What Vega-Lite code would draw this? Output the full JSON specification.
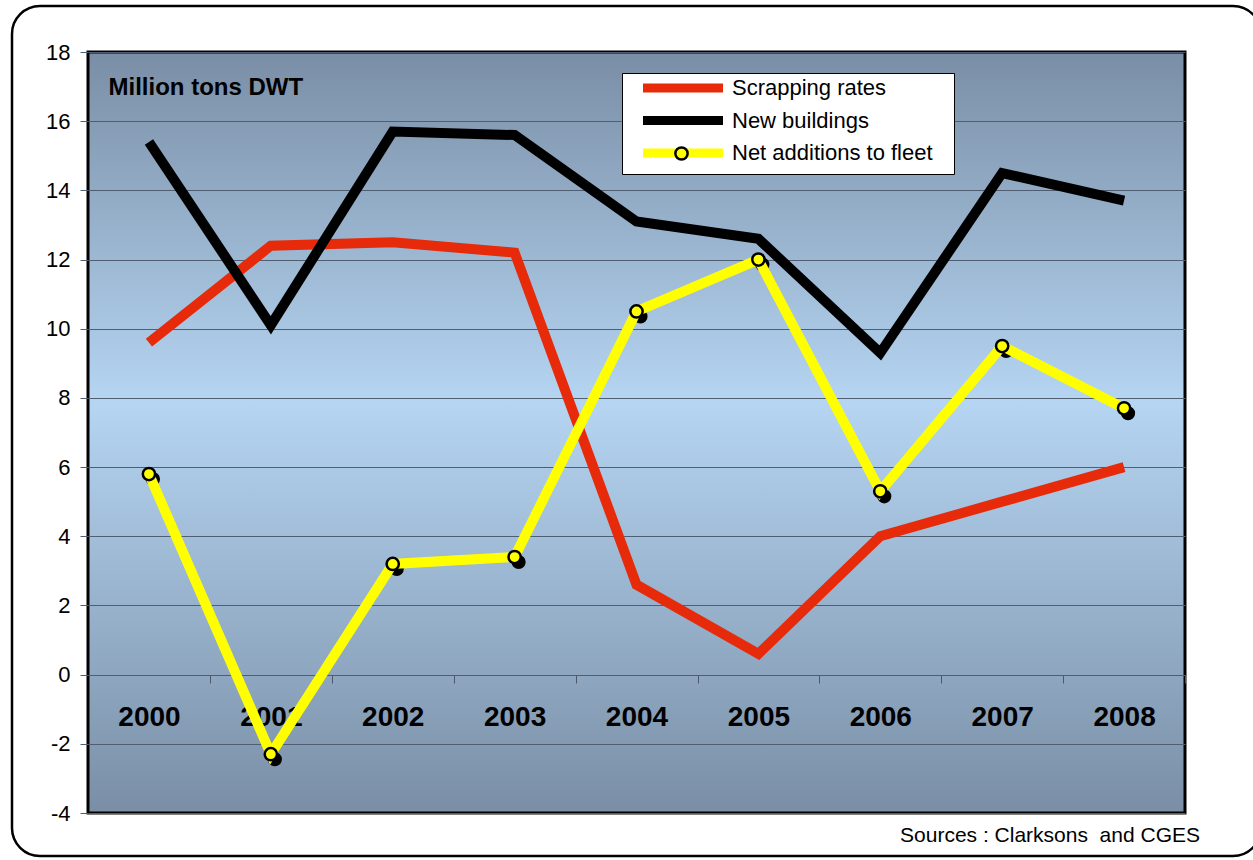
{
  "$schema": "https://vega.github.io/schema/vega-lite/v6.json",
  "width": 1097,
  "height": 761,
  "autosize": {"type": "none"},
  "padding": {"left": 88, "top": 52, "right": 68, "bottom": 47},
  "background": "white",
  "view": {
    "stroke": "black",
    "strokeWidth": 3,
    "fill": {
      "gradient": "linear", "x1": 0, "y1": 0, "x2": 0, "y2": 1,
      "stops": [
        {"offset": 0, "color": "#7A8EA6"},
        {"offset": 0.46, "color": "#B5D5F2"},
        {"offset": 1, "color": "#7A8EA6"}
      ]
    }
  },
  "config": {
    "font": "Liberation Sans",
    "legend": {"titleFontSize": 0, "strokeWidth": 2.5}
  },
  "title": {
    "text": "Sources : Clarksons \u00a0and CGES",
    "orient": "bottom",
    "anchor": "end",
    "frame": "group",
    "dx": 15,
    "offset": -32,
    "fontSize": 21,
    "fontWeight": "normal",
    "font": "Liberation Sans",
    "color": "black"
  },
  "resolve": {
    "scale": {"fill": "independent", "opacity": "independent"},
    "legend": {"fill": "independent", "opacity": "independent"}
  },
  "data": {
    "values": [
      {"year": "2000", "series": "Scrapping rates", "value": 9.6},
      {"year": "2001", "series": "Scrapping rates", "value": 12.4},
      {"year": "2002", "series": "Scrapping rates", "value": 12.5},
      {"year": "2003", "series": "Scrapping rates", "value": 12.2},
      {"year": "2004", "series": "Scrapping rates", "value": 2.6},
      {"year": "2005", "series": "Scrapping rates", "value": 0.6},
      {"year": "2006", "series": "Scrapping rates", "value": 4.0},
      {"year": "2007", "series": "Scrapping rates", "value": 5.0},
      {"year": "2008", "series": "Scrapping rates", "value": 6.0},
      {"year": "2000", "series": "New buildings", "value": 15.4},
      {"year": "2001", "series": "New buildings", "value": 10.1},
      {"year": "2002", "series": "New buildings", "value": 15.7},
      {"year": "2003", "series": "New buildings", "value": 15.6},
      {"year": "2004", "series": "New buildings", "value": 13.1},
      {"year": "2005", "series": "New buildings", "value": 12.6},
      {"year": "2006", "series": "New buildings", "value": 9.3},
      {"year": "2007", "series": "New buildings", "value": 14.5},
      {"year": "2008", "series": "New buildings", "value": 13.7},
      {"year": "2000", "series": "Net additions to fleet", "value": 5.8},
      {"year": "2001", "series": "Net additions to fleet", "value": -2.3},
      {"year": "2002", "series": "Net additions to fleet", "value": 3.2},
      {"year": "2003", "series": "Net additions to fleet", "value": 3.4},
      {"year": "2004", "series": "Net additions to fleet", "value": 10.5},
      {"year": "2005", "series": "Net additions to fleet", "value": 12.0},
      {"year": "2006", "series": "Net additions to fleet", "value": 5.3},
      {"year": "2007", "series": "Net additions to fleet", "value": 9.5},
      {"year": "2008", "series": "Net additions to fleet", "value": 7.7}
    ]
  },
  "encoding": {
    "x": {
      "field": "year",
      "type": "ordinal",
      "scale": {"type": "point", "padding": 0.5},
      "axis": {
        "title": null,
        "orient": "bottom",
        "offset": -138,
        "domain": false,
        "ticks": true,
        "tickSize": 8,
        "tickColor": "#4A586A",
        "tickWidth": 1,
        "tickOffset": 61,
        "labelOffset": -61,
        "labelAngle": 0,
        "labelFontSize": 28,
        "labelFontWeight": "bold",
        "labelColor": "black",
        "labelPadding": 20,
        "grid": false
      }
    },
    "y": {
      "field": "value",
      "type": "quantitative",
      "scale": {"domain": [-4, 18], "nice": false, "zero": false},
      "axis": {
        "values": [-4, -2, 0, 2, 4, 6, 8, 10, 12, 14, 16, 18],
        "labelExpr": "datum.value + ''",
        "domain": false,
        "grid": true,
        "gridColor": "#4F5E70",
        "gridWidth": 1,
        "tickColor": "#4F5E70",
        "tickSize": 8,
        "labelFontSize": 22,
        "labelColor": "black",
        "labelPadding": 10,
        "title": "Million tons DWT",
        "titleAngle": 0,
        "titleX": 20,
        "titleY": 42,
        "titleAlign": "left",
        "titleBaseline": "alphabetic",
        "titleFontSize": 24,
        "titleFontWeight": "bold",
        "titleColor": "black"
      }
    }
  },
  "layer": [
    {
      "transform": [{"filter": "datum.series !== 'Net additions to fleet'"}],
      "mark": {"type": "line", "strokeWidth": 10, "strokeCap": "butt", "strokeJoin": "miter"},
      "encoding": {
        "color": {
          "field": "series",
          "type": "nominal",
          "scale": {
            "domain": ["Scrapping rates", "New buildings", "Net additions to fleet"],
            "range": ["#E62A0A", "#000000", "#FFFF00"]
          },
          "legend": {
            "orient": "none",
            "legendX": 534,
            "legendY": 21,
            "title": "\u00a0",
            "titleOrient": "right",
            "titleFontSize": 22,
            "titlePadding": 18,
            "titleOpacity": 0,
            "fillColor": "white",
            "strokeColor": "black",
            "padding": 3,
            "symbolType": "M-5.333,0L5.333,0",
            "symbolSize": 225,
            "symbolStrokeWidth": 9,
            "symbolOffset": 46,
            "labelOffset": 37,
            "labelFontSize": 22,
            "labelColor": "black",
            "labelLimit": 400,
            "rowPadding": -3.5,
            "encode": {"legend": {"update": {"strokeWidth": {"value": 1}}}}
          }
        },
        "detail": {"field": "series"}
      }
    },
    {
      "transform": [{"filter": "datum.series === 'Net additions to fleet'"}],
      "mark": {"type": "point", "filled": true, "color": "black", "size": 200, "xOffset": 4, "yOffset": 5},
      "encoding": {
        "opacity": {
          "field": "series",
          "type": "nominal",
          "scale": {"range": [1, 1]},
          "legend": {
            "orient": "none",
            "legendX": -76,
            "legendY": -46,
            "title": null,
            "padding": 420,
            "fillColor": null,
            "strokeColor": "black",
            "cornerRadius": 28,
            "symbolSize": 0,
            "symbolStrokeWidth": 0,
            "symbolOpacity": 0,
            "labelOpacity": 0,
            "labelFontSize": 10,
            "labelOffset": 307,
            "encode": {
              "legend": {"update": {"strokeWidth": {"value": 2.5}}},
              "symbols": {"update": {"opacity": {"value": 0}, "fillOpacity": {"value": 0}, "strokeOpacity": {"value": 0}}}
            }
          }
        }
      }
    },
    {
      "transform": [{"filter": "datum.series === 'Net additions to fleet'"}],
      "mark": {"type": "line", "strokeWidth": 10, "strokeCap": "butt", "strokeJoin": "miter"},
      "encoding": {
        "color": {"field": "series", "type": "nominal"}
      }
    },
    {
      "transform": [{"filter": "datum.series === 'Net additions to fleet'"}],
      "mark": {"type": "point", "filled": true, "stroke": "black", "strokeWidth": 2.5, "opacity": 1, "size": 150},
      "encoding": {
        "fill": {
          "field": "series",
          "type": "nominal",
          "scale": {"domain": ["Net additions to fleet"], "range": ["#FFFF00"]},
          "legend": {
            "orient": "none",
            "legendX": 586,
            "legendY": 94,
            "title": null,
            "padding": 0,
            "symbolType": "circle",
            "symbolSize": 150,
            "symbolStrokeColor": "black",
            "symbolStrokeWidth": 2.5,
            "labelOpacity": 0,
            "labelFontSize": 1
          }
        }
      }
    }
  ]
}
